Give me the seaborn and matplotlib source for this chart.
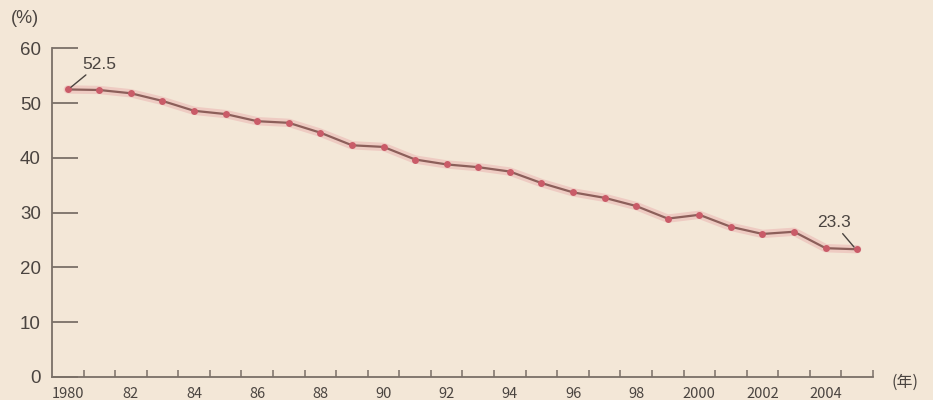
import numpy as np
import pandas as pd
import matplotlib
matplotlib.use("Agg")
import matplotlib.pyplot as plt
import seaborn as sns
from matplotlib.ticker import FixedLocator

years = list(range(1980, 2006))
share = [52.5, 52.4, 51.8, 50.4, 48.6, 48.0, 46.7, 46.4, 44.6, 42.3,
         42.0, 39.7, 38.8, 38.3, 37.5, 35.4, 33.7, 32.7, 31.2, 28.9,
         29.6, 27.4, 26.1, 26.5, 23.5, 23.3]
year_ticks = list(range(1980, 2006, 2))
year_labels = ["1980", "82", "84", "86", "88", "90", "92", "94", "96", "98",
               "2000", "2002", "2004"]
y_ticks = [0, 10, 20, 30, 40, 50, 60]

df = pd.DataFrame({"year": years, "share": share})

bg = "#f3e7d7"
ink = "#4a4440"
axis_c = "#7a7068"

sns.set_theme(style="white")
plt.rcParams["font.family"] = ["Liberation Sans Narrow", "Noto Sans CJK JP", "DejaVu Sans"]

fig = plt.figure(figsize=(9.33, 4.0), dpi=100, facecolor=bg)
ax = fig.add_axes([0.0557, 0.058, 0.88, 0.821])
ax.set_facecolor(bg)

# soft pink halo under the line
sns.lineplot(data=df, x="year", y="share", ax=ax, color="#e9a9aa", lw=6,
             alpha=0.45, solid_capstyle="round")
sns.lineplot(data=df, x="year", y="share", ax=ax, color="#8c5f5a", lw=1.6,
             marker="o", markersize=5, markerfacecolor="#c95b68",
             markeredgecolor="#c95b68", markeredgewidth=0)

ax.set_xlim(1979.5, 2005.5)
ax.set_ylim(0, 60)
ax.set_xlabel("")
ax.set_ylabel("")

for s in ["top", "right"]:
    ax.spines[s].set_visible(False)
for s in ["left", "bottom"]:
    ax.spines[s].set_color(axis_c)
    ax.spines[s].set_linewidth(1.3)

ax.set_yticks(y_ticks)
ax.set_yticklabels([str(v) for v in y_ticks], fontsize=13.5, color=ink,
                   family=["Liberation Sans", "DejaVu Sans"])
ax.tick_params(axis="y", left=True, direction="in", length=19, width=1.3,
               color=axis_c, pad=8)

ax.set_xticks(year_ticks)
ax.set_xticklabels(year_labels, fontsize=10.5, color=ink)
ax.xaxis.set_minor_locator(FixedLocator([y + 0.5 for y in years]))
ax.tick_params(axis="x", which="major", bottom=True, length=0, pad=7)
ax.tick_params(axis="x", which="minor", bottom=True, direction="in", length=5,
               width=1.1, color=axis_c)

ax.annotate("52.5", xy=(years[0] + 0.1, share[0] + 0.4), xytext=(years[0] + 0.45, share[0] + 3.8),
            fontsize=12.5, color=ink, family=["Liberation Sans", "DejaVu Sans"],
            arrowprops=dict(arrowstyle="-", color=ink, lw=1.0, shrinkA=0, shrinkB=0))
ax.annotate("23.3", xy=(years[-1] - 0.1, share[-1] + 0.4), xytext=(years[-1] - 0.75, share[-1] + 4.0),
            fontsize=12.5, color=ink, family=["Liberation Sans", "DejaVu Sans"], ha="center",
            arrowprops=dict(arrowstyle="-", color=ink, lw=1.0, shrinkA=0, shrinkB=0))

fig.text(0.012, 0.953, "(%)", fontsize=13, color=ink, va="center",
         family=["Liberation Sans", "DejaVu Sans"])
fig.text(0.97, 0.045, "(年)", fontsize=11.5, color=ink, va="center", ha="center",
         family=["Noto Sans CJK JP", "DejaVu Sans"])

fig.savefig("out.png", dpi=100, facecolor=bg)
